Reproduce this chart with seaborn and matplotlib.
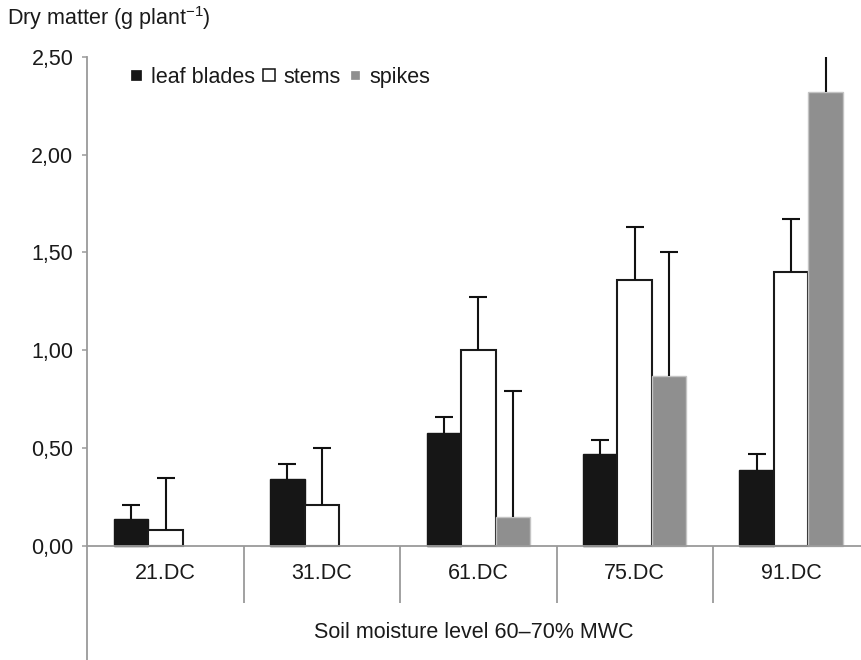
import numpy as np
import pandas as pd
import seaborn as sns
import matplotlib
matplotlib.use("Agg")
import matplotlib.pyplot as plt
from matplotlib.lines import Line2D

# ---- data: dry matter per plant organ at each growth stage ----
stages = ["21.DC", "31.DC", "61.DC", "75.DC", "91.DC"]
organs = ["leaf blades", "stems", "spikes"]
leaf_blades = [0.14, 0.34, 0.58, 0.47, 0.39]
leaf_blades_err = [0.07, 0.08, 0.08, 0.07, 0.08]
stems = [0.08, 0.21, 1.00, 1.36, 1.40]
stems_err = [0.27, 0.29, 0.27, 0.27, 0.27]
spikes = [0.0, 0.0, 0.15, 0.87, 2.32]
spikes_err = [0.0, 0.0, 0.64, 0.63, 0.30]
y_ticks = [0.0, 0.5, 1.0, 1.5, 2.0, 2.5]
y_tick_labels = ["0,00", "0,50", "1,00", "1,50", "2,00", "2,50"]
y_label = "Dry matter (g plant$^{-1}$)"
x_label = "Soil moisture level 60\u201370% MWC"

values = {"leaf blades": leaf_blades, "stems": stems, "spikes": spikes}
errors = {"leaf blades": leaf_blades_err, "stems": stems_err, "spikes": spikes_err}

df = pd.DataFrame(
    [(s, o, values[o][i]) for o in organs for i, s in enumerate(stages)],
    columns=["stage", "organ", "dry_matter"],
)

# ---- style ----
sns.set_style("white")
plt.rcParams["font.family"] = ["Liberation Sans", "DejaVu Sans"]
plt.rcParams["mathtext.fontset"] = "custom"
plt.rcParams["mathtext.rm"] = "Liberation Sans"
plt.rcParams["mathtext.it"] = "Liberation Sans:italic"
plt.rcParams["mathtext.bf"] = "Liberation Sans:bold"

FS = 15.5
AXIS_GREY = "#9a9a9a"
TEXT = "#1a1a1a"
fills = {"leaf blades": "#161616", "stems": "#ffffff", "spikes": "#8f8f8f"}
edges = {"leaf blades": "#161616", "stems": "#1a1a1a", "spikes": "#c4c4c4"}

W, H = 861, 660
fig = plt.figure(figsize=(W / 100, H / 100), dpi=100)
ax_left, ax_bottom = 87.3 / W, (H - 546) / H
ax_w, ax_h = 782 / W, (546 - 56.8) / H
ax = fig.add_axes([ax_left, ax_bottom, ax_w, ax_h])

sns.barplot(
    data=df, x="stage", y="dry_matter", hue="organ", order=stages,
    hue_order=organs, palette=fills, width=0.66, errorbar=None,
    legend=False, ax=ax,
)

# outline each series and draw upper error bars from the bar geometry
for organ, container in zip(organs, ax.containers):
    for patch in container:
        patch.set_edgecolor(edges[organ])
        patch.set_linewidth(1.5 if organ == "stems" else 1.0)
        patch.set_clip_on(False)
        if patch.get_height() == 0:
            patch.set_visible(False)
    xs = [p.get_x() + p.get_width() / 2 for p in container]
    hs = [p.get_height() for p in container]
    for x, h, e in zip(xs, hs, errors[organ]):
        if e > 0:
            _, caps, _ = ax.errorbar(x, h, yerr=[[0], [e]], fmt="none",
                                     ecolor="#111111", elinewidth=1.5,
                                     capsize=6.5, capthick=1.5, zorder=3)
            caps[0].set_visible(False)  # no cap at the bar top

ax.set_xlim(-0.5, 4.5)
ax.set_ylim(0, 2.5)
ax.set_yticks(y_ticks)
ax.set_yticklabels(y_tick_labels)
ax.set_xlabel("")
ax.set_ylabel("")
ax.tick_params(axis="y", which="both", left=True, direction="out", length=3.6,
               width=1.1, color=AXIS_GREY, pad=6.5, labelsize=FS, labelcolor=TEXT)
ax.tick_params(axis="x", length=0, pad=12, labelsize=FS, labelcolor=TEXT)

for side in ("top", "right"):
    ax.spines[side].set_visible(False)
for side in ("left", "bottom"):
    ax.spines[side].set_color(AXIS_GREY)
    ax.spines[side].set_linewidth(1.3)

# category separators below the axis
xt = ax.get_xaxis_transform()
ax.vlines([0.5, 1.5, 2.5, 3.5], ymin=-(603 - 546) / (546 - 56.8), ymax=0,
          transform=xt, colors=AXIS_GREY, linewidth=1.3, clip_on=False)
# left axis line continues down past the category rows
fig.add_artist(Line2D([ax_left, ax_left], [0, ax_bottom], color=AXIS_GREY,
                      linewidth=1.3, transform=fig.transFigure))

# legend as a single row of small square keys
key_sizes = {"leaf blades": 7.4, "stems": 8.6, "spikes": 6.0}
handles = [Line2D([], [], linestyle="none", marker="s",
                  markersize=key_sizes[o], markerfacecolor=fills[o],
                  markeredgecolor="#111111" if o != "spikes" else fills[o],
                  markeredgewidth=1.1 if o == "stems" else 0.5)
           for o in organs]
fig.legend(handles, organs, loc="center left",
           bbox_to_anchor=(129 / W, 1 - 77.5 / H), ncol=3, frameon=False,
           fontsize=FS, handlelength=0.65, handletextpad=0.35,
           columnspacing=0.35, borderpad=0, borderaxespad=0, labelcolor=TEXT)

fig.text(7 / W, 1 - 18 / H, y_label, fontsize=FS, color=TEXT,
         ha="left", va="center")
fig.text(474 / W, 1 - 632 / H, x_label, fontsize=FS, color=TEXT,
         ha="center", va="center")

fig.savefig("out.png", dpi=100, facecolor="white")
